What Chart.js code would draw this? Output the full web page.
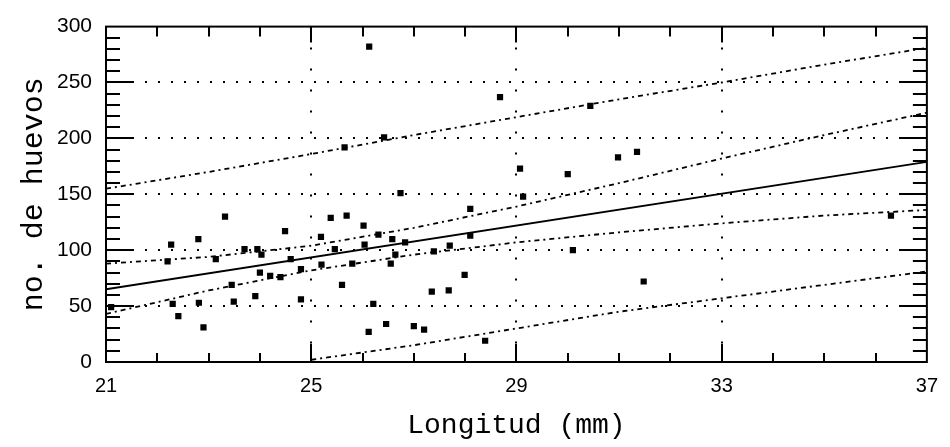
<!DOCTYPE html>
<html>
<head>
<meta charset="utf-8">
<script src="https://cdn.jsdelivr.net/npm/chart.js@4.4.0/dist/chart.umd.min.js"></script>
<style>
  html, body { margin: 0; padding: 0; background: #fff; }
</style>
</head>
<body>
<canvas id="chart" width="950" height="447"></canvas>
<script>
// Observed points: longitud (mm) vs no. de huevos
const lengthMm = [21.1, 22.2, 22.27, 22.3, 22.41, 22.8, 22.81, 22.9, 23.14, 23.32,
    23.45, 23.49, 23.7, 23.95, 23.91, 24.0, 24.03, 24.2, 24.4, 24.49,
    24.6, 24.8, 24.8, 25.19, 25.2, 25.38, 25.46, 25.6, 25.65, 25.69,
    25.8, 26.02, 26.04, 26.12, 26.13, 26.21, 26.31, 26.42, 26.46, 26.55,
    26.58, 26.64, 26.74, 26.83, 27.0, 27.2, 27.35, 27.39, 27.68, 27.7,
    27.99, 28.1, 28.1, 28.39, 28.68, 29.07, 29.13, 30.0, 30.1, 30.44,
    30.98, 31.35, 31.48, 36.3];
const eggCount = [49, 90, 105, 52, 41, 110, 53, 31, 92, 130,
    69, 54, 101, 101, 59, 80, 96, 77, 76, 117,
    92, 83, 56, 112, 87, 129, 101, 69, 192, 131,
    88, 122, 105, 27, 282, 52, 114, 201, 34, 88,
    110, 96, 151, 107, 32, 29, 63, 99, 64, 104,
    78, 113, 137, 19, 237, 173, 148, 168, 100, 229,
    183, 188, 72, 131];

// Fitted line and the two pairs of bands
const fitX = [21, 37];
const fitY = [65, 179];
const bandX = [21, 23, 25, 27, 29, 31, 33, 35, 37];
const confUpper = [88, 94, 104, 120, 139, 160, 182, 203, 223];
const confLower = [43, 64, 82, 96, 107, 116, 124, 131, 136];
const predUpper = [155, 170, 186, 203, 219, 235, 250, 266, 281];
const predLowerX = [25, 27, 29, 31, 33, 35, 37];
const predLower = [2, 15, 30, 45, 57, 69, 81];

const xTicks = [21, 25, 29, 33, 37];
const yTicks = [0, 50, 100, 150, 200, 250, 300];

const toPts = (xs, ys) => xs.map((x, i) => ({ x: x, y: ys[i] }));

function lineSet(xs, ys, dash, width) {
    return {
        data: toPts(xs, ys),
        showLine: true,
        borderColor: '#000',
        borderWidth: width,
        borderDash: dash,
        pointRadius: 0,
        fill: false,
        tension: 0
    };
}

// dotted grid, frame and inward tick marks like the original plot
const axisFrame = {
    id: 'axisFrame',
    beforeDatasetsDraw(chart) {
        const { ctx, chartArea: a, scales: { x, y } } = chart;
        ctx.save();
        ctx.strokeStyle = '#000';
        ctx.lineWidth = 2;
        ctx.setLineDash([2, 11]);
        yTicks.slice(1, -1).forEach(v => {
            const py = Math.round(y.getPixelForValue(v));
            ctx.beginPath(); ctx.moveTo(a.left, py); ctx.lineTo(a.right, py); ctx.stroke();
        });
        ctx.setLineDash([2, 19]);
        xTicks.slice(1, -1).forEach(v => {
            const px = Math.round(x.getPixelForValue(v));
            ctx.beginPath(); ctx.moveTo(px, a.top); ctx.lineTo(px, a.bottom); ctx.stroke();
        });
        ctx.restore();
    },
    afterDraw(chart) {
        const { ctx, chartArea: a, scales: { x, y } } = chart;
        ctx.save();
        ctx.strokeStyle = '#000';
        ctx.lineWidth = 2;
        ctx.strokeRect(a.left, a.top, a.right - a.left, a.bottom - a.top);
        ctx.beginPath();
        for (let v = 22; v < 37; v++) {
            const px = Math.round(x.getPixelForValue(v));
            const major = xTicks.includes(v);
            ctx.moveTo(px, a.bottom); ctx.lineTo(px, a.bottom - (major ? 18 : 9));
            ctx.moveTo(px, a.top); ctx.lineTo(px, a.top + (major ? 16 : 10));
        }
        for (let v = 10; v < 300; v += 10) {
            const py = Math.round(y.getPixelForValue(v));
            const len = v % 50 === 0 ? 26 : 14;
            ctx.moveTo(a.left, py); ctx.lineTo(a.left + len, py);
            ctx.moveTo(a.right, py); ctx.lineTo(a.right - len, py);
        }
        ctx.stroke();
        ctx.restore();
    }
};

new Chart(document.getElementById('chart'), {
    type: 'scatter',
    data: {
        datasets: [
            {
                data: toPts(lengthMm, eggCount),
                pointStyle: 'rect',
                pointRadius: 4.4,
                backgroundColor: '#000',
                borderWidth: 0
            },
            lineSet(fitX, fitY, [], 2),
            lineSet(bandX, confUpper, [5, 4, 2, 4], 1.8),
            lineSet(bandX, confLower, [5, 4, 2, 4], 1.8),
            lineSet(bandX, predUpper, [5, 4, 2, 4], 1.8),
            lineSet(predLowerX, predLower, [5, 4, 2, 4], 1.8)
        ]
    },
    options: {
        responsive: false,
        devicePixelRatio: 1,
        animation: false,
        layout: { padding: { top: 19, right: 15, left: 0, bottom: 0 } },
        plugins: { legend: { display: false }, tooltip: { enabled: false } },
        scales: {
            x: {
                type: 'linear',
                min: 21,
                max: 37,
                afterBuildTicks: s => { s.ticks = xTicks.map(v => ({ value: v })); },
                afterFit: s => { s.height = 85; },
                grid: { display: false, drawTicks: false },
                border: { display: false },
                ticks: { padding: 12, maxRotation: 0, color: '#000', font: { family: 'Liberation Sans', size: 20 } },
                title: {
                    display: true,
                    text: 'Longitud (mm)',
                    color: '#000',
                    font: { family: 'Liberation Mono', size: 28 },
                    padding: { top: 0, bottom: 5 }
                }
            },
            y: {
                min: 0,
                max: 300,
                afterBuildTicks: s => { s.ticks = yTicks.map(v => ({ value: v })); },
                afterFit: s => { s.width = 106; },
                grid: { display: false, drawTicks: false },
                border: { display: false },
                ticks: { padding: 14, color: '#000', font: { family: 'Liberation Sans', size: 21 } },
                title: {
                    display: true,
                    text: 'no. de huevos',
                    color: '#000',
                    font: { family: 'Liberation Mono', size: 30 },
                    padding: { top: 16, bottom: 0 }
                }
            }
        }
    },
    plugins: [axisFrame]
});
</script>
</body>
</html>
